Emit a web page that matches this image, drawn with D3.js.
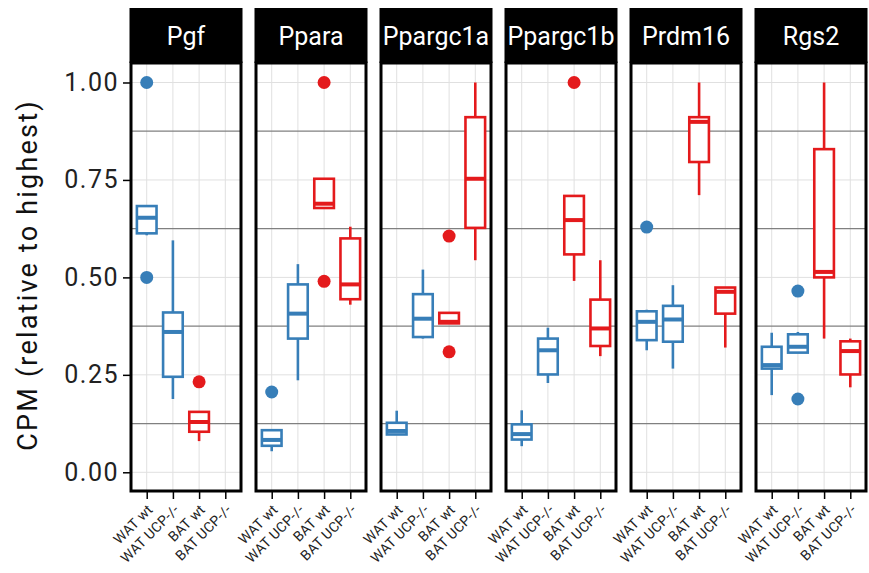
<!DOCTYPE html>
<html>
<head>
<meta charset="utf-8">
<script src="https://cdn.jsdelivr.net/npm/d3@7"></script>
<style>
  body { margin: 0; background: #fff; }
  text { font-family: Roboto, "DejaVu Sans", sans-serif; }
</style>
</head>
<body>
<div id="chart"></div>
<script>
// facets and groups
var genes = ["Pgf", "Ppara", "Ppargc1a", "Ppargc1b", "Prdm16", "Rgs2"];
var groups = ["WAT wt", "WAT UCP-/-", "BAT wt", "BAT UCP-/-"];
var yTicks = [0, 0.25, 0.5, 0.75, 1.0];
var yMidLines = [0.125, 0.375, 0.625, 0.875];

// box summaries per group: [lower whisker, q1, median, q3, upper whisker], null = no data
var pgfStats = [[0.608, 0.613, 0.653, 0.683, 0.683], [0.188, 0.245, 0.36, 0.41, 0.595], [0.08, 0.104, 0.129, 0.155, 0.155], null];
var pgfOutliers = [[1.0, 0.5], [], [0.232], []];

var pparaStats = [[0.054, 0.068, 0.083, 0.108, 0.111], [0.236, 0.343, 0.407, 0.482, 0.534], [0.678, 0.678, 0.689, 0.753, 0.753], [0.43, 0.444, 0.482, 0.6, 0.63]];
var pparaOutliers = [[0.206], [], [1.0, 0.49], []];

var ppargc1aStats = [[0.097, 0.097, 0.106, 0.127, 0.158], [0.343, 0.347, 0.394, 0.457, 0.52], [0.382, 0.382, 0.386, 0.409, 0.409], [0.544, 0.627, 0.753, 0.911, 1.0]];
var ppargc1aOutliers = [[], [], [0.606, 0.309], []];

var ppargc1bStats = [[0.067, 0.084, 0.098, 0.123, 0.159], [0.229, 0.251, 0.313, 0.343, 0.371], [0.491, 0.559, 0.647, 0.709, 0.709], [0.298, 0.324, 0.369, 0.443, 0.544]];
var ppargc1bOutliers = [[], [], [1.0], []];

var prdm16Stats = [[0.313, 0.339, 0.386, 0.413, 0.417], [0.266, 0.335, 0.392, 0.427, 0.48], [0.711, 0.796, 0.899, 0.911, 1.0], [0.32, 0.407, 0.463, 0.474, 0.474]];
var prdm16Outliers = [[0.629], [], [], []];

var rgs2Stats = [[0.198, 0.266, 0.275, 0.322, 0.358], [0.307, 0.307, 0.322, 0.354, 0.36], [0.343, 0.5, 0.514, 0.829, 1.0], [0.218, 0.251, 0.311, 0.336, 0.343]];
var rgs2Outliers = [[], [0.465, 0.188], [], []];

var allStats = [pgfStats, pparaStats, ppargc1aStats, ppargc1bStats, prdm16Stats, rgs2Stats];
var allOutliers = [pgfOutliers, pparaOutliers, ppargc1aOutliers, ppargc1bOutliers, prdm16Outliers, rgs2Outliers];

var W = 869, H = 573;
var panelTop = 63, panelBottom = 491, stripTop = 8;

var svg = d3.select("#chart").append("svg")
    .attr("width", W)
    .attr("height", H);

var colorOf = function(g) { return g.indexOf("WAT") === 0 ? "#377EB8" : "#E41A1C"; };

var fx = d3.scaleBand()
    .domain(genes)
    .range([131, 866])
    .paddingInner(0.12);

var x = d3.scalePoint()
    .domain(groups)
    .range([0, fx.bandwidth()])
    .padding(0.6);

var y = d3.scaleLinear()
    .domain([-0.048, 1.05])
    .range([panelBottom, panelTop]);

var boxW = x.step() * 0.75;

// y axis
var yAxis = svg.append("g")
    .attr("transform", "translate(" + (fx(genes[0]) - 1) + ",0)")
    .call(d3.axisLeft(y).tickValues(yTicks).tickFormat(d3.format(".2f")).tickSize(7).tickPadding(4));
yAxis.select(".domain").remove();
yAxis.selectAll("line").attr("stroke", "#000").attr("stroke-width", 1.5);
yAxis.selectAll("text")
    .attr("font-size", 25)
    .attr("letter-spacing", 1.5)
    .attr("fill", "#222");

svg.append("text")
    .attr("transform", "translate(37,275) rotate(-90)")
    .attr("text-anchor", "middle")
    .attr("font-size", 27)
    .attr("letter-spacing", 2.2)
    .attr("fill", "#111")
    .text("CPM (relative to highest)");

genes.forEach(function(gene, gi) {
  var g = svg.append("g").attr("transform", "translate(" + fx(gene) + ",0)");
  var pw = fx.bandwidth();

  // grid
  g.selectAll(".vgrid").data(groups).enter().append("line")
      .attr("x1", function(d) { return x(d); }).attr("x2", function(d) { return x(d); })
      .attr("y1", panelTop).attr("y2", panelBottom)
      .attr("stroke", "#e0e0e0").attr("stroke-width", 1);
  g.selectAll(".hgrid").data(yTicks).enter().append("line")
      .attr("x1", 0).attr("x2", pw)
      .attr("y1", function(d) { return y(d); }).attr("y2", function(d) { return y(d); })
      .attr("stroke", "#e0e0e0").attr("stroke-width", 1);
  g.selectAll(".mgrid").data(yMidLines).enter().append("line")
      .attr("x1", 0).attr("x2", pw)
      .attr("y1", function(d) { return y(d); }).attr("y2", function(d) { return y(d); })
      .attr("stroke", "#808080").attr("stroke-width", 1.3);

  // boxes
  var stats = allStats[gi];
  groups.forEach(function(grp, k) {
    var s = stats[k];
    var col = colorOf(grp);
    var cx = x(grp);
    if (s) {
      g.append("line")
          .attr("x1", cx).attr("x2", cx)
          .attr("y1", y(s[4])).attr("y2", y(s[3]))
          .attr("stroke", col).attr("stroke-width", 2.6);
      g.append("line")
          .attr("x1", cx).attr("x2", cx)
          .attr("y1", y(s[1])).attr("y2", y(s[0]))
          .attr("stroke", col).attr("stroke-width", 2.6);
      g.append("rect")
          .attr("x", cx - boxW / 2).attr("width", boxW)
          .attr("y", y(s[3])).attr("height", Math.max(0.5, y(s[1]) - y(s[3])))
          .attr("fill", "#fff").attr("stroke", col).attr("stroke-width", 2.6);
      g.append("line")
          .attr("x1", cx - boxW / 2).attr("x2", cx + boxW / 2)
          .attr("y1", y(s[2])).attr("y2", y(s[2]))
          .attr("stroke", col).attr("stroke-width", 4);
    }
    g.selectAll(".out" + k).data(allOutliers[gi][k]).enter().append("circle")
        .attr("cx", cx).attr("cy", function(d) { return y(d); })
        .attr("r", 6.5).attr("fill", col);
  });

  // border
  g.append("rect")
      .attr("x", 0).attr("y", panelTop).attr("width", pw).attr("height", panelBottom - panelTop)
      .attr("fill", "none").attr("stroke", "#000").attr("stroke-width", 3);

  // strip
  g.append("rect")
      .attr("x", -1.5).attr("y", stripTop).attr("width", pw + 3).attr("height", panelTop - stripTop)
      .attr("fill", "#000");
  g.append("text")
      .attr("x", pw / 2).attr("y", (stripTop + panelTop) / 2 + 9)
      .attr("text-anchor", "middle")
      .attr("font-size", 25)
      .attr("fill", "#fff")
      .text(gene);

  // x axis
  var xa = g.append("g")
      .attr("transform", "translate(0," + (panelBottom + 1) + ")")
      .call(d3.axisBottom(x).tickSize(7));
  xa.select(".domain").remove();
  xa.selectAll("line").attr("stroke", "#000").attr("stroke-width", 1.5);
  xa.selectAll("text")
      .style("font-size", "14px")
      .attr("letter-spacing", 0.3)
      .attr("fill", "#222")
      .attr("text-anchor", "end")
      .attr("y", 0).attr("dy", "0.35em")
      .attr("transform", "translate(3,15) rotate(-45)");
});
</script>
</body>
</html>
